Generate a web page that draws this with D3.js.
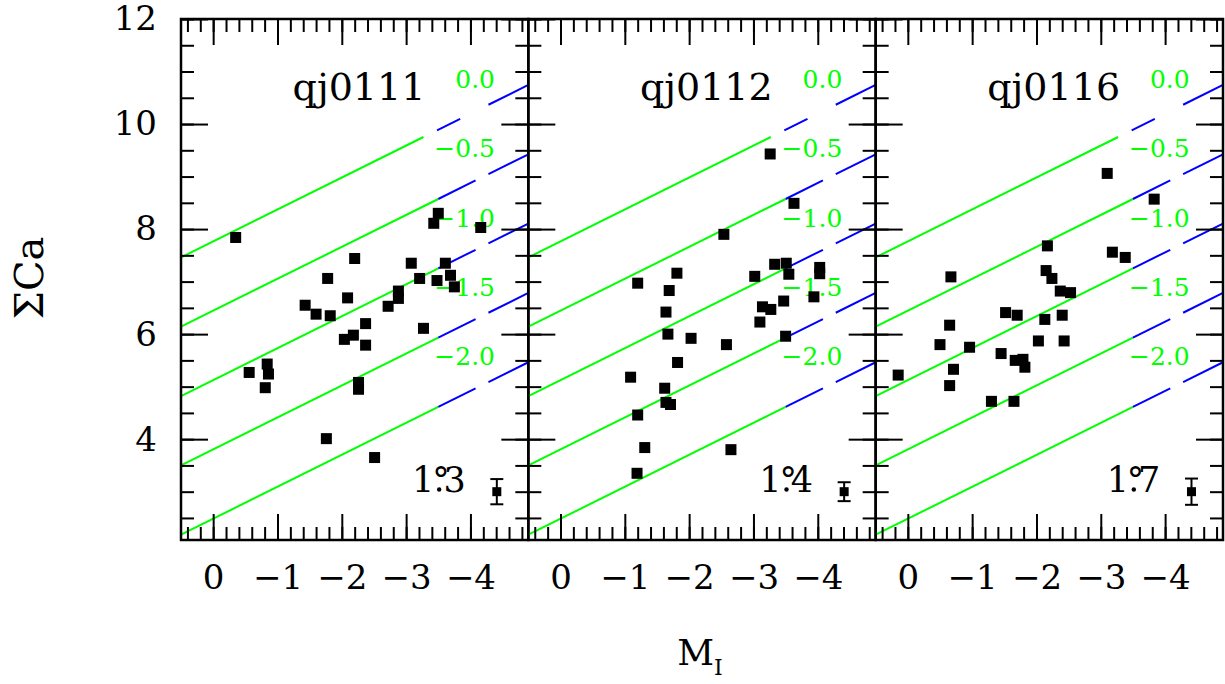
<!DOCTYPE html>
<html>
<head>
<meta charset="utf-8">
<script src="https://cdn.jsdelivr.net/npm/d3@7"></script>
<style>
  html, body { margin: 0; padding: 0; background: white; }
  text { font-family: "DejaVu Serif", serif; }
</style>
</head>
<body>
<div id="chart"></div>
<script>
// cluster names and field radius
const panelNames = ["qj0111", "qj0112", "qj0116"];
const radiusLabels = [["1", "3"], ["1", "4"], ["1", "7"]];

// [M_I, sum Ca] per cluster
const stars0111 = [
  [-0.35, 7.84], [-2.20, 7.44], [-3.08, 7.35], [-3.50, 8.30], [-3.43, 8.11], [-4.16, 8.03],
  [-3.61, 7.35], [-1.78, 7.06], [-3.21, 7.06], [-3.48, 7.02], [-3.69, 7.12], [-3.75, 6.90],
  [-2.88, 6.82], [-2.88, 6.68], [-2.72, 6.53], [-1.43, 6.55], [-1.60, 6.38], [-1.82, 6.35],
  [-2.09, 6.69], [-2.37, 6.20], [-2.18, 5.98], [-2.04, 5.90], [-2.37, 5.79], [-3.27, 6.11],
  [-0.56, 5.27], [-0.84, 5.43], [-0.86, 5.24], [-0.81, 4.98], [-2.26, 5.08], [-2.26, 4.95],
  [-1.76, 4.01], [-2.51, 3.65]
];
const stars0112 = [
  [-3.26, 9.43], [-3.63, 8.49], [-2.54, 7.90], [-1.81, 7.16], [-3.33, 7.33], [-3.51, 7.35],
  [-3.55, 7.14], [-4.03, 7.27], [-4.03, 7.15], [-3.02, 7.10], [-1.20, 6.97], [-1.69, 6.83],
  [-3.94, 6.71], [-3.47, 6.63], [-3.14, 6.52], [-3.27, 6.47], [-3.10, 6.23], [-1.64, 6.42],
  [-1.67, 6.00], [-2.03, 5.92], [-2.58, 5.80], [-3.50, 5.96], [-1.82, 5.46], [-1.09, 5.18],
  [-1.62, 4.97], [-1.64, 4.70], [-1.71, 4.66], [-1.20, 4.46], [-1.31, 3.84], [-2.65, 3.80],
  [-1.19, 3.35]
];
const stars0116 = [
  [-3.10, 9.06], [-3.83, 8.57], [-2.17, 7.68], [-3.18, 7.56], [-3.38, 7.46], [-2.15, 7.21],
  [-2.24, 7.06], [-0.67, 7.09], [-2.37, 6.82], [-2.53, 6.79], [-1.52, 6.41], [-1.70, 6.36],
  [-2.40, 6.36], [-2.13, 6.28], [-0.65, 6.17], [-2.03, 5.87], [-2.43, 5.87], [-0.50, 5.80],
  [-0.96, 5.75], [-1.45, 5.63], [-1.67, 5.50], [-1.79, 5.52], [-1.82, 5.37], [-0.71, 5.33],
  [0.15, 5.22], [-0.65, 5.02], [-1.30, 4.72], [-1.65, 4.72]
];
const panelStars = [stars0111, stars0112, stars0116];

// typical error bar
const errMI = -4.41;
const errSCa = 3.0;
const errSize = [0.24, 0.18, 0.25];

// iso-[Fe/H] lines: sumCa = a + b*M_I + c*[Fe/H]
const fehValues = [0.0, -0.5, -1.0, -1.5, -2.0];
const fehLabels = ["0.0", "\u22120.5", "\u22121.0", "\u22121.5", "\u22122.0"];
const calib = {a: 7.765, b: -0.608, c: 2.64};
const greenEnd = [-3.27, -3.5, -3.5, -3.5, -3.5];
const blueDashes = [
  [[-3.48, -3.84], [-4.28, -4.9]],
  [[-3.5, -4.08], [-4.28, -4.9]],
  [[-3.5, -4.08], [-4.28, -4.9]],
  [[-3.5, -4.08], [-4.28, -4.9]],
  [[-3.5, -4.08], [-4.28, -4.9]]
];

const xTicks = [0, -1, -2, -3, -4];
const yTicks = [4, 6, 8, 10, 12];

const width = 1225, height = 684;
const plotLeft = 181, plotRight = 1223, plotTop = 19, plotBottom = 540;
const panelW = (plotRight - plotLeft) / 3;
const xDomain = [0.5, -4.9];

const svg = d3.select("#chart").append("svg")
  .attr("width", width).attr("height", height);

const y = d3.scaleLinear().domain([2.08, 12]).range([plotBottom, plotTop]);
const sca = (m, feh) => calib.a + calib.b * m + calib.c * feh;

const minorX = d3.range(0.4, -4.81, -0.2).map(v => +v.toFixed(1));
const minorY = d3.range(2.5, 12.01, 0.5);
const fmt = d => d === 0 ? "0" : "\u2212" + Math.abs(d);

panelNames.forEach((name, i) => {
  const x0 = plotLeft + i * panelW;
  const x = d3.scaleLinear().domain(xDomain).range([x0, x0 + panelW]);
  const g = svg.append("g");

  // lines
  const line = d3.line().x(d => x(d[0])).y(d => y(d[1]));
  fehValues.forEach((feh, k) => {
    g.append("path")
      .attr("d", line([[xDomain[0], sca(xDomain[0], feh)], [greenEnd[k], sca(greenEnd[k], feh)]]))
      .attr("stroke", "#00ff00").attr("stroke-width", 2).attr("fill", "none");
    blueDashes[k].forEach(seg => {
      g.append("path")
        .attr("d", line(seg.map(m => [m, sca(m, feh)])))
        .attr("stroke", "#0000ff").attr("stroke-width", 2).attr("fill", "none");
    });
    g.append("text")
      .attr("x", x0 + 314)
      .attr("y", y(sca(xDomain[1], feh)) + 3)
      .attr("text-anchor", "end")
      .attr("font-size", "25px")
      .attr("fill", "#00ff00")
      .text(fehLabels[k]);
  });

  // stars
  const s = 11;
  g.append("g").selectAll("rect").data(panelStars[i]).join("rect")
    .attr("x", d => x(d[0]) - s / 2)
    .attr("y", d => y(d[1]) - s / 2)
    .attr("width", s).attr("height", s)
    .attr("fill", "black");

  // error bar
  const ex = x(errMI);
  g.append("line").attr("x1", ex).attr("x2", ex)
    .attr("y1", y(errSCa + errSize[i])).attr("y2", y(errSCa - errSize[i]))
    .attr("stroke", "black").attr("stroke-width", 2);
  [errSCa + errSize[i], errSCa - errSize[i]].forEach(v => {
    g.append("line").attr("x1", ex - 6.5).attr("x2", ex + 6.5)
      .attr("y1", y(v)).attr("y2", y(v))
      .attr("stroke", "black").attr("stroke-width", 2);
  });
  g.append("rect").attr("x", ex - 4.5).attr("y", y(errSCa) - 4.5)
    .attr("width", 9).attr("height", 9).attr("fill", "black");

  // labels
  g.append("text")
    .attr("x", x0 + 178).attr("y", 100)
    .attr("text-anchor", "middle")
    .attr("font-size", "38px")
    .text(name);

  // radius label: 1°.3 (dot drawn under the degree sign)
  const rt = g.append("text")
    .attr("x", x0 + 231).attr("y", 492)
    .attr("font-size", "35px");
  rt.append("tspan").text(radiusLabels[i][0]);
  const deg = rt.append("tspan").attr("dx", "-0.06em").text("\u00b0");
  rt.append("tspan").attr("dx", "-0.18em").text(radiusLabels[i][1]);
  g.append("circle")
    .attr("cx", x0 + 231 + 35 * (0.636 - 0.06 + 0.2))
    .attr("cy", 489.5)
    .attr("r", 2.2)
    .attr("fill", "black");

  // axes, ticks pointing inward
  const axStyle = sel => {
    sel.select(".domain").remove();
    sel.selectAll("line").attr("stroke", "black").attr("stroke-width", 2);
  };
  const bottom = g.append("g").attr("transform", `translate(0,${plotBottom})`)
    .call(d3.axisBottom(x).tickValues(xTicks).tickSize(-26).tickPadding(25).tickFormat(fmt))
    .call(axStyle);
  bottom.selectAll("text").attr("font-size", "34px").attr("fill", "black")
    .style("font-family", "DejaVu Serif");
  g.append("g").attr("transform", `translate(0,${plotBottom})`)
    .call(d3.axisBottom(x).tickValues(minorX).tickSize(-13).tickFormat(""))
    .call(axStyle);
  g.append("g").attr("transform", `translate(0,${plotTop})`)
    .call(d3.axisTop(x).tickValues(xTicks).tickSize(-26).tickFormat(""))
    .call(axStyle);
  g.append("g").attr("transform", `translate(0,${plotTop})`)
    .call(d3.axisTop(x).tickValues(minorX).tickSize(-13).tickFormat(""))
    .call(axStyle);

  const left = g.append("g").attr("transform", `translate(${x0},0)`)
    .call(d3.axisLeft(y).tickValues(yTicks).tickSize(-27).tickPadding(24)
      .tickFormat(i === 0 ? d3.format("d") : ""))
    .call(axStyle);
  left.selectAll("text").attr("font-size", "34px").attr("fill", "black")
    .style("font-family", "DejaVu Serif");
  g.append("g").attr("transform", `translate(${x0},0)`)
    .call(d3.axisLeft(y).tickValues(minorY).tickSize(-13).tickFormat(""))
    .call(axStyle);
  g.append("g").attr("transform", `translate(${x0 + panelW},0)`)
    .call(d3.axisRight(y).tickValues(yTicks).tickSize(-27).tickFormat(""))
    .call(axStyle);
  g.append("g").attr("transform", `translate(${x0 + panelW},0)`)
    .call(d3.axisRight(y).tickValues(minorY).tickSize(-13).tickFormat(""))
    .call(axStyle);

  g.append("rect")
    .attr("x", x0).attr("y", plotTop)
    .attr("width", panelW).attr("height", plotBottom - plotTop)
    .attr("fill", "none").attr("stroke", "black").attr("stroke-width", 2.5);
});

// axis titles
svg.append("text")
  .attr("transform", "translate(43,278) rotate(-90)")
  .attr("text-anchor", "middle")
  .attr("font-size", "40px")
  .text("\u03a3Ca");

const mt = svg.append("text")
  .attr("x", 700).attr("y", 665)
  .attr("text-anchor", "middle")
  .attr("font-size", "36px");
mt.append("tspan").text("M");
mt.append("tspan").attr("font-size", "22px").attr("dy", 10).text("I");
</script>
</body>
</html>
